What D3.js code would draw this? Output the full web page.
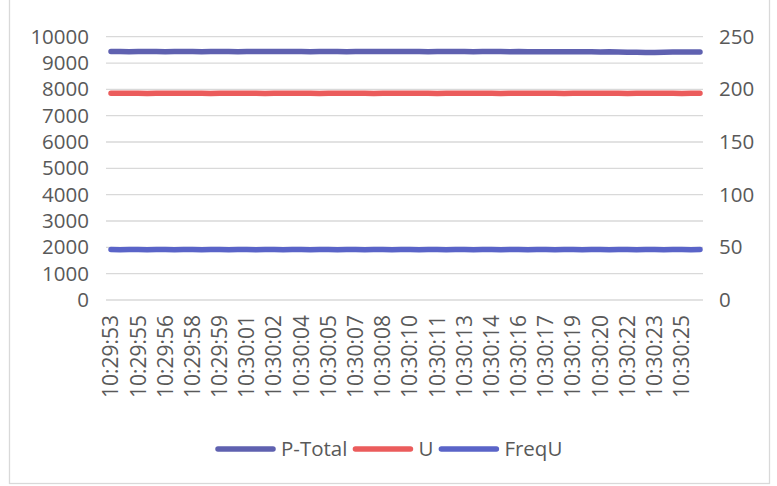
<!DOCTYPE html>
<html>
<head>
<meta charset="utf-8">
<script src="https://cdnjs.cloudflare.com/ajax/libs/d3/7.8.5/d3.min.js"></script>
<style>
    body { margin: 0; background: #fff; }
    svg text { font-family: "Open Sans", "Noto Sans", sans-serif; fill: #595959; }
</style>
</head>
<body>
<svg id="chart" width="777" height="486"></svg>
<script>
// tick labels shown on the time axis (every 3rd sample, samples are 0.5 s apart)
var timeLabels = ["10:29:53","10:29:55","10:29:56","10:29:58","10:29:59","10:30:01",
    "10:30:02","10:30:04","10:30:05","10:30:07","10:30:08","10:30:10","10:30:11",
    "10:30:13","10:30:14","10:30:16","10:30:17","10:30:19","10:30:20","10:30:22",
    "10:30:23","10:30:25"];
var labelStep = 3;

var leftTicks = [0,1000,2000,3000,4000,5000,6000,7000,8000,9000,10000];
var rightTicks = [0,50,100,150,200,250];

// P-Total (left axis)
var pTotal = [9435,9440,9432,9438,9441,9436,9430,9434,9439,9437,
    9433,9436,9440,9438,9431,9435,9442,9439,9434,9437,
    9441,9436,9432,9438,9440,9435,9433,9437,9441,9438,
    9434,9436,9439,9442,9437,9433,9435,9440,9438,9434,
    9431,9436,9439,9437,9432,9435,9430,9433,9428,9431,
    9426,9429,9424,9427,9422,9425,9418,9412,9405,9402,
    9404,9410,9416,9420,9418,9422];
// U (right axis)
var uVals = [196.3,196.2,196.4,196.3,196.1,196.2,196.3,196.4,196.2,196.3,
    196.2,196.1,196.3,196.4,196.2,196.3,196.2,196.1,196.3,196.2,
    196.4,196.3,196.2,196.1,196.2,196.3,196.4,196.3,196.2,196.1,
    196.2,196.3,196.2,196.4,196.3,196.2,196.1,196.2,196.3,196.2,
    196.3,196.4,196.2,196.1,196.2,196.3,196.2,196.3,196.4,196.2,
    196.1,196.2,196.3,196.2,196.3,196.4,196.2,196.1,196.2,196.3,
    196.2,196.3,196.2,196.1,196.2,196.3];
// FreqU (right axis)
var freqU = [47.9,47.8,47.9,47.9,47.8,47.9,47.9,47.8,47.9,47.9,
    47.8,47.9,47.9,47.8,47.9,47.9,47.8,47.9,47.9,47.8,
    47.9,47.9,47.8,47.9,47.9,47.8,47.9,47.9,47.8,47.9,
    47.9,47.8,47.9,47.9,47.8,47.9,47.9,47.8,47.9,47.9,
    47.8,47.9,47.9,47.8,47.9,47.9,47.8,47.9,47.9,47.8,
    47.9,47.9,47.8,47.9,47.9,47.8,47.9,47.9,47.8,47.9,
    47.9,47.8,47.9,47.9,47.8,47.9];

var seriesNames = ["P-Total","U","FreqU"];
var seriesColors = ["#5f61b0","#eb5c5c","#5a64c8"];

var svg = d3.select("#chart");

// light frame around the chart
svg.append("rect")
    .attr("x", 9.5).attr("y", -2)
    .attr("width", 760).attr("height", 485.5)
    .attr("fill", "none")
    .attr("stroke", "#d9d9d9")
    .attr("stroke-width", 1.3);

var plot = { left: 106, right: 703, top: 36.7, bottom: 300 };

var categories = d3.range(pTotal.length);
var x = d3.scalePoint()
    .domain(categories)
    .range([111, 700]);

var yLeft = d3.scaleLinear().domain([0, 10000]).range([plot.bottom, plot.top]);
var yRight = d3.scaleLinear().domain([0, 250]).range([plot.bottom, plot.top]);

// gridlines
svg.append("g")
    .attr("class", "grid")
    .selectAll("line")
    .data(leftTicks)
    .enter().append("line")
    .attr("x1", plot.left).attr("x2", plot.right)
    .attr("y1", function(d) { return yLeft(d); })
    .attr("y2", function(d) { return yLeft(d); })
    .attr("stroke", "#d9d9d9")
    .attr("stroke-width", 1.3);

// left axis
var leftAxis = svg.append("g")
    .attr("transform", "translate(" + plot.left + ",0)")
    .call(d3.axisLeft(yLeft).tickValues(leftTicks).tickFormat(d3.format("d")).tickSize(0).tickPadding(17));
leftAxis.select(".domain").remove();
leftAxis.selectAll("text")
    .style("font-size", "20.5px")
    .attr("fill", "#595959");

// right axis
var rightAxis = svg.append("g")
    .attr("transform", "translate(" + plot.right + ",0)")
    .call(d3.axisRight(yRight).tickValues(rightTicks).tickFormat(d3.format("d")).tickSize(0).tickPadding(16));
rightAxis.select(".domain").remove();
rightAxis.selectAll("text")
    .style("font-size", "20.5px")
    .attr("fill", "#595959");

// category axis labels
var labelCats = timeLabels.map(function(t, i) { return i * labelStep; });
svg.append("g")
    .attr("class", "xlabels")
    .selectAll("text")
    .data(timeLabels)
    .enter().append("text")
    .attr("transform", function(d, i) {
        return "translate(" + x(labelCats[i]) + "," + (plot.bottom + 15) + ") rotate(-90)";
    })
    .attr("text-anchor", "end")
    .attr("dy", "0.35em")
    .style("font-size", "21px")
    .text(function(d) { return d; });

// lines
var series = [
    { name: seriesNames[0], values: pTotal, y: yLeft, color: seriesColors[0] },
    { name: seriesNames[1], values: uVals, y: yRight, color: seriesColors[1] },
    { name: seriesNames[2], values: freqU, y: yRight, color: seriesColors[2] }
];

svg.append("g")
    .attr("class", "lines")
    .selectAll("path")
    .data(series)
    .enter().append("path")
    .attr("fill", "none")
    .attr("stroke", function(d) { return d.color; })
    .attr("stroke-width", 5.5)
    .attr("stroke-linecap", "round")
    .attr("stroke-linejoin", "round")
    .attr("d", function(s) {
        return d3.line()
            .x(function(v, i) { return x(categories[i]); })
            .y(function(v) { return s.y(v); })(s.values);
    });

// legend
var legend = svg.append("g").attr("class", "legend");
var lx = 218, ly = 449;
series.forEach(function(s) {
    legend.append("line")
        .attr("x1", lx).attr("x2", lx + 55)
        .attr("y1", ly).attr("y2", ly)
        .attr("stroke", s.color)
        .attr("stroke-width", 5.5)
        .attr("stroke-linecap", "round");
    var t = legend.append("text")
        .attr("x", lx + 63)
        .attr("y", ly)
        .attr("dy", "0.35em")
        .style("font-size", "20.5px")
        .text(s.name);
    lx = lx + 63 + t.node().getComputedTextLength() + 8;
});
</script>
</body>
</html>
